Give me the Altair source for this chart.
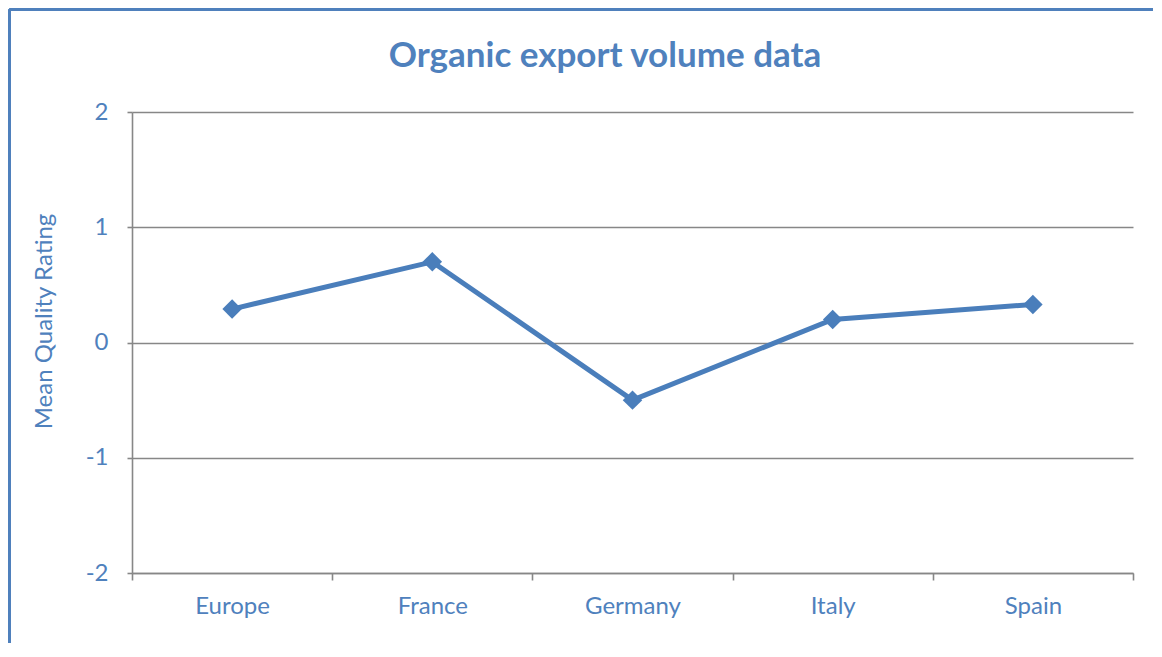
import altair as alt
import pandas as pd

countries = ["Europe", "France", "Germany", "Italy", "Spain"]
ratings = [0.29, 0.70, -0.50, 0.20, 0.33]
y_ticks = [-2, -1, 0, 1, 2]
chart_title = "Organic export volume data"

BLUE = "#4F81BD"
LINE = "#4A7EBB"
GRAY = "#878787"
FONT = "Lato"

df = pd.DataFrame({"country": countries, "rating": ratings})
title_df = pd.DataFrame({"t": [chart_title]})

W, H = 1001, 461

x_enc = alt.X(
    "country:N",
    sort=countries,
    scale=alt.Scale(type="band", paddingInner=0, paddingOuter=0),
    axis=alt.Axis(
        title=None, labelAngle=0, tickBand="extent", tickSize=7,
        domainColor=GRAY, tickColor=GRAY, domainWidth=1.6, tickWidth=1.6,
        labelColor=BLUE, labelFontSize=24, labelFont=FONT, labelPadding=14,
        grid=False,
    ),
)
y_enc = alt.Y(
    "rating:Q",
    scale=alt.Scale(domain=[-2, 2], nice=False, zero=False),
    axis=alt.Axis(
        values=y_ticks, title="Mean Quality Rating", tickSize=5,
        labelExpr="'' + datum.value",
        domainColor=GRAY, tickColor=GRAY, domainWidth=1.6, tickWidth=1.6,
        gridColor=GRAY, gridWidth=1.6, grid=True,
        labelColor=BLUE, labelFontSize=24, labelFont=FONT, labelPadding=19,
        titleColor=BLUE, titleFontSize=24, titleFont=FONT, titleFontWeight="normal",
        titleAngle=-90, titleX=-88, titleY=209, titleAlign="center", titleBaseline="middle",
    ),
)

line = alt.Chart(df).mark_line(color=LINE, strokeWidth=5).encode(x=x_enc, y=y_enc)
pts = alt.Chart(df).mark_point(shape="diamond", filled=True, size=380, color=LINE, opacity=1).encode(
    x=x_enc, y=y_enc
)

title_mark = alt.Chart(title_df).mark_text(
    font=FONT, fontSize=35, fontWeight="bold", color=BLUE, align="center",
    baseline="alphabetic", clip=False,
).encode(text="t:N", x=alt.value(473), y=alt.value(-45))

border_left = alt.Chart(df).mark_rule(color=BLUE, strokeWidth=2.5, clip=False).encode(
    x=alt.value(-122.5), y=alt.value(-102.5), y2=alt.value(H + 90)
)
border_top = alt.Chart(df).mark_rule(color=BLUE, strokeWidth=2.5, clip=False).encode(
    x=alt.value(-122.5), x2=alt.value(W + 40), y=alt.value(-102.5)
)

chart = (
    alt.layer(line, pts, title_mark, border_left, border_top)
    .properties(
        width=W, height=H,
        autosize=alt.AutoSizeParams(type="none"),
        padding={"left": 124, "top": 104, "right": 20, "bottom": 70},
        view=alt.ViewBackground(stroke="transparent", strokeWidth=0),
    )
    .configure_view(stroke="transparent", strokeWidth=0)
    .configure(background="white")
)

chart.save("out.html", embed_options={"renderer": "svg", "actions": False})
